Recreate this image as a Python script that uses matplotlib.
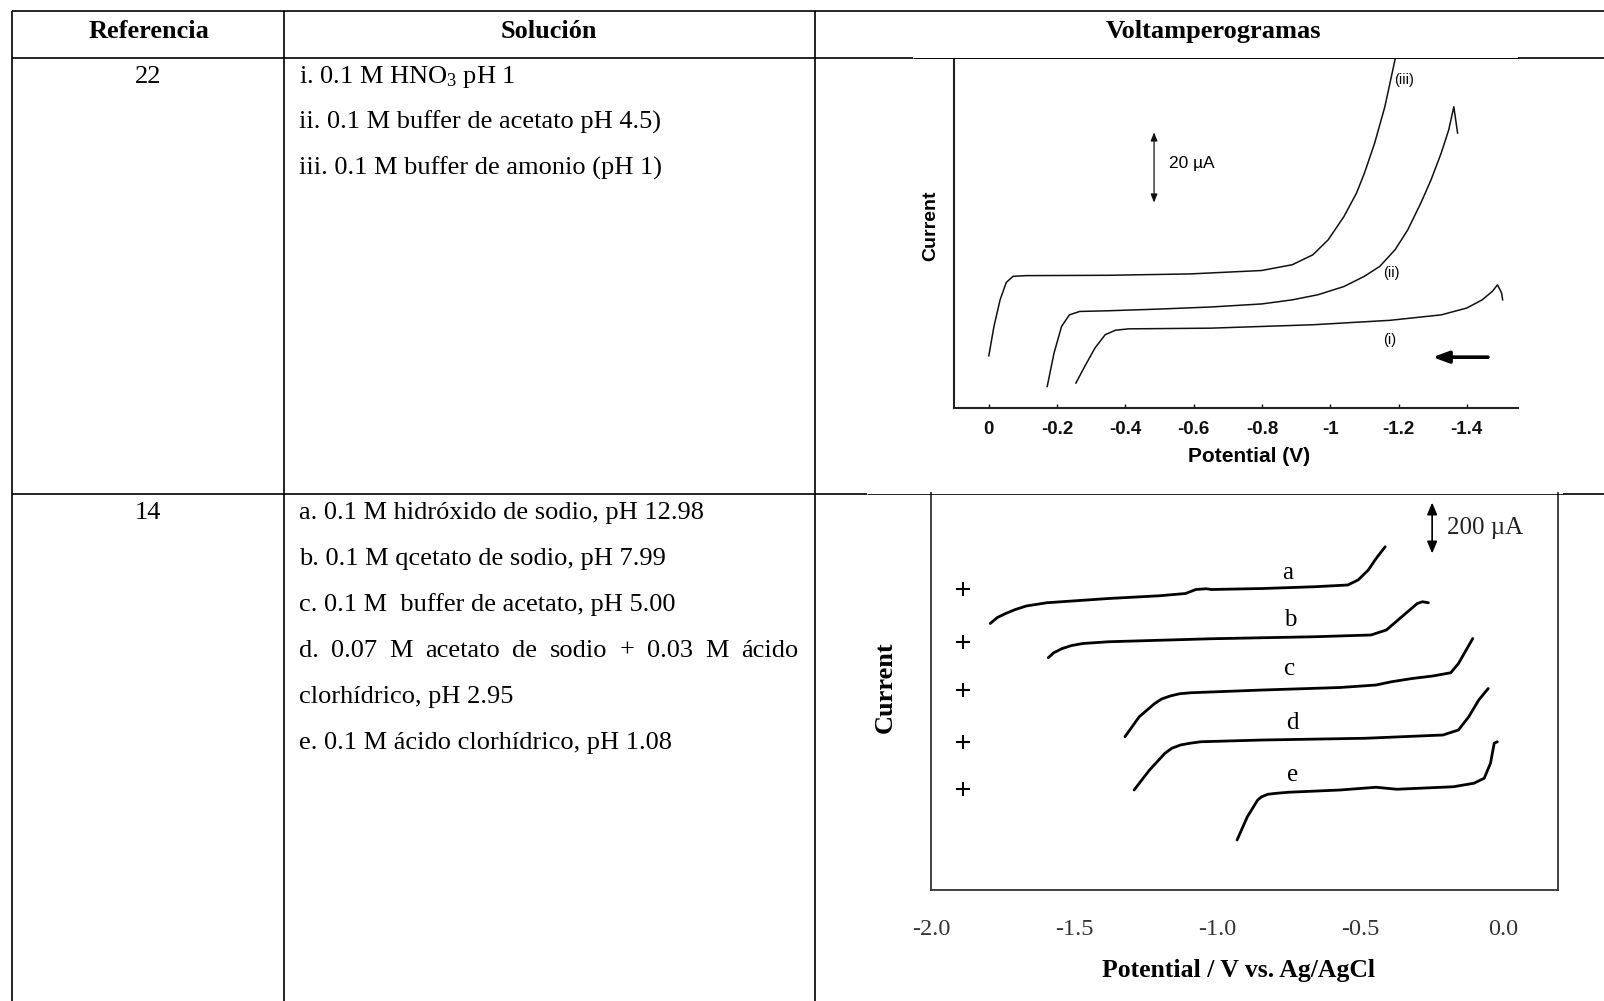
import matplotlib
matplotlib.use("Agg")
import matplotlib.pyplot as plt
from matplotlib.lines import Line2D

plt.rcParams['axes.unicode_minus'] = False
plt.rcParams['mathtext.fontset'] = 'custom'
plt.rcParams['mathtext.rm'] = 'Liberation Serif'
plt.rcParams['mathtext.it'] = 'Liberation Serif:italic'
plt.rcParams['mathtext.bf'] = 'Liberation Serif:bold'

# ---------------- table content ----------------
headers = ["Referencia", "Solución", "Voltamperogramas"]
refs = ["22", "14"]
row1_lines = [r"i. 0.1 M HNO$_{3}$ pH 1",
              "ii. 0.1 M buffer de acetato pH 4.5)",
              "iii. 0.1 M buffer de amonio (pH 1)"]
row2_lines = ["a. 0.1 M hidróxido de sodio, pH 12.98",
              "b. 0.1 M qcetato de sodio, pH 7.99",
              "c. 0.1 M  buffer de acetato, pH 5.00",
              "d. 0.07 M acetato de sodio + 0.03 M ácido",
              "clorhídrico, pH 2.95",
              "e. 0.1 M ácido clorhídrico, pH 1.08"]

# ---------------- voltammogram 1 (Potential V, Current µA) ----------------
v1_ticks = [0, -0.2, -0.4, -0.6, -0.8, -1.0, -1.2, -1.4]
v1_ticklabels = ["0", "-0.2", "-0.4", "-0.6", "-0.8", "-1", "-1.2", "-1.4"]

iii_v = [0.000, -0.015, -0.033, -0.051, -0.071, -0.108, -0.349, -0.589, -0.799,
         -0.889, -0.949, -0.994, -1.040, -1.077, -1.100, -1.130, -1.160, -1.190]
iii_i = [15.3, 23.9, 31.7, 36.8, 38.6, 38.8, 38.9, 39.3, 40.3,
         42.0, 44.9, 49.3, 56.1, 63.0, 68.8, 77.6, 88.3, 102.2]

ii_v = [-0.171, -0.191, -0.213, -0.236, -0.266, -0.349, -0.499, -0.649, -0.799,
        -0.889, -0.964, -1.040, -1.100, -1.145, -1.190, -1.227, -1.265, -1.295,
        -1.325, -1.347, -1.362, -1.373]
ii_i = [6.3, 16.1, 23.9, 27.3, 28.3, 28.5, 29.0, 29.6, 30.5,
        31.7, 33.2, 35.6, 38.6, 41.5, 46.4, 52.2, 60.0, 66.8,
        74.7, 81.5, 88.3, 80.6]

i_v = [-0.255, -0.281, -0.311, -0.341, -0.371, -0.409, -0.649, -0.949, -1.175,
       -1.325, -1.400, -1.445, -1.475, -1.490, -1.502, -1.505]
i_i = [7.3, 12.2, 17.6, 21.5, 22.8, 23.2, 23.4, 24.4, 25.7,
       27.3, 29.3, 31.7, 34.2, 36.1, 33.7, 31.7]

# ---------------- voltammogram 2 (Potential V vs Ag/AgCl, Current µA) ----------------
v2_ticks = [-2.0, -1.5, -1.0, -0.5, 0.0]
v2_ticklabels = ["-2.0", "-1.5", "-1.0", "-0.5", "0.0"]

a_v = [-1.793, -1.768, -1.739, -1.705, -1.667, -1.595, -1.379, -1.200, -1.110, -1.074,
       -1.038, -1.020, -0.840, -0.660, -0.543, -0.507, -0.471, -0.444, -0.412]
a_i = [1066, 1090, 1106, 1122, 1136, 1149, 1166, 1177, 1186, 1202,
       1205, 1202, 1206, 1213, 1220, 1240, 1280, 1326, 1373]

b_v = [-1.590, -1.571, -1.541, -1.508, -1.469, -1.379, -1.020, -0.660, -0.462,
       -0.408, -0.354, -0.300, -0.282, -0.261]
b_i = [929, 949, 966, 978, 986, 993, 1005, 1013, 1020,
       1040, 1093, 1146, 1153, 1149]

c_v = [-1.322, -1.272, -1.218, -1.194, -1.164, -1.131, -1.092, -0.840, -0.570, -0.444,
       -0.390, -0.318, -0.246, -0.183, -0.156, -0.129, -0.106]
c_i = [613, 693, 746, 764, 776, 785, 789, 800, 810, 820,
       833, 846, 856, 869, 906, 960, 1006]

d_v = [-1.290, -1.236, -1.182, -1.158, -1.128, -1.095, -1.056, -0.840, -0.480, -0.210,
       -0.156, -0.120, -0.085, -0.052]
d_i = [400, 480, 547, 567, 580, 587, 593, 600, 607, 620,
       640, 693, 760, 806]

e_v = [-0.930, -0.894, -0.858, -0.844, -0.822, -0.791, -0.750, -0.570, -0.444, -0.372,
       -0.174, -0.102, -0.066, -0.044, -0.031, -0.020]
e_i = [200, 293, 360, 373, 383, 387, 391, 400, 411, 403,
       413, 427, 447, 507, 587, 593]

plus_v = [-1.888, -1.888, -1.888, -1.888, -1.888]
plus_i = [1204, 992, 800, 592, 404]

curve_labels2 = ["a", "b", "c", "d", "e"]
label2_v = [-0.752, -0.745, -0.745, -0.736, -0.736]
label2_i = [1268, 1080, 884, 668, 460]

# ---------------- figure ----------------
W, H = 1604, 1001
fig = plt.figure(figsize=(W / 100, H / 100), dpi=100)
fig.patch.set_facecolor("white")


def fx(x):
    return x / W


def fy(y):
    return 1 - y / H


def hline(y, x1, x2, lw=1.2):
    fig.add_artist(Line2D([fx(x1), fx(x2)], [fy(y), fy(y)], transform=fig.transFigure,
                          color="black", lw=lw, solid_capstyle="butt", zorder=5))


def vline(x, y1, y2, lw=1.2):
    fig.add_artist(Line2D([fx(x), fx(x)], [fy(y1), fy(y2)], transform=fig.transFigure,
                          color="black", lw=lw, solid_capstyle="butt", zorder=5))


# table grid
hline(11, 12, W)
hline(58, 12, 913)
hline(58, 913, 1518, lw=0.7)
hline(58, 1518, W)
hline(494, 12, 867)
hline(494, 867, 1563, lw=0.6)
hline(494, 1563, W)
vline(12, 11, H)
vline(284, 11, H)
vline(815, 11, H)

serif = "Liberation Serif"
sans = "Liberation Sans"

# headers
for htxt, cx in zip(headers, [149, 549, 1214]):
    fig.text(fx(cx), fy(38), htxt, ha="center", va="baseline", fontsize=19,
             fontweight="bold", family=serif)

# reference numbers
fig.text(fx(148), fy(83), refs[0], ha="center", va="baseline", fontsize=19, family=serif)
fig.text(fx(148), fy(519), refs[1], ha="center", va="baseline", fontsize=19, family=serif)

x_text = 299
for k, s in enumerate(row1_lines):
    fig.text(fx(x_text), fy(83 + 46 * k), s, ha="left", va="baseline", fontsize=19, family=serif)

renderer = fig.canvas.get_renderer()
for k, s in enumerate(row2_lines):
    yb = 519 + 46 * k
    if s.startswith("d."):
        words = s.split()
        texts = [fig.text(0, fy(yb), w, ha="left", va="baseline", fontsize=19, family=serif)
                 for w in words]
        widths = [t.get_window_extent(renderer).width for t in texts]
        gap = (798 - x_text - sum(widths)) / (len(words) - 1)
        xcur = x_text
        for t, wdt in zip(texts, widths):
            t.set_x(fx(xcur))
            xcur += wdt + gap
    else:
        fig.text(fx(x_text), fy(yb), s, ha="left", va="baseline", fontsize=19, family=serif)

# ---------------- plot 1 ----------------
ax1 = fig.add_axes([fx(954), fy(408), (1518 - 954) / W, (408 - 59) / H])
ax1.patch.set_visible(False)
ax1.set_xlim(0.102, -1.55)
ax1.set_ylim(0, 102.3)
for sp in ["top", "right"]:
    ax1.spines[sp].set_visible(False)
for sp in ["left", "bottom"]:
    ax1.spines[sp].set_linewidth(1.5)
    ax1.spines[sp].set_color("#222222")
ax1.set_yticks([])
ax1.set_xticks(v1_ticks)
ax1.set_xticklabels(v1_ticklabels, fontsize=13.5, fontweight="bold", family=sans)
ax1.tick_params(axis="x", direction="in", length=3, width=1, pad=9.5, colors="#111111")

for vv, ii in [(iii_v, iii_i), (ii_v, ii_i), (i_v, i_i)]:
    ax1.plot(vv, ii, color="#111111", lw=1.1)

ax1.text(-1.217, 96.1, "(iii)", ha="center", va="center", fontsize=10.5, family=sans)
ax1.text(-1.178, 39.5, "(ii)", ha="center", va="center", fontsize=10.5, family=sans)
ax1.text(-1.175, 20.0, "(i)", ha="center", va="center", fontsize=10.5, family=sans)

ax1.annotate("", xy=(-0.484, 80.8), xytext=(-0.484, 60.2),
             arrowprops=dict(arrowstyle="<|-|>,head_length=0.5,head_width=0.2",
                             lw=0.9, color="#111111", shrinkA=0, shrinkB=0, mutation_scale=10))
ax1.text(-0.529, 71.8, "20 µA", ha="left", va="center", fontsize=12.5, family=sans)

ax1.annotate("", xy=(-1.300, 14.9), xytext=(-1.462, 14.9),
             arrowprops=dict(arrowstyle="-|>,head_length=0.95,head_width=0.35",
                             lw=2.6, color="black", shrinkA=0, shrinkB=0, mutation_scale=10))

fig.text(fx(1249), fy(457), "Potential (V)", ha="center", va="center", fontsize=15,
         fontweight="bold", family=sans)
fig.text(fx(931), fy(226), "Current", ha="center", va="center", rotation=90, fontsize=14,
         fontweight="bold", family=sans)

# ---------------- plot 2 ----------------
ax2 = fig.add_axes([fx(931), fy(890), (1558 - 931) / W, (890 - 493) / H])
ax2.patch.set_visible(False)
ax2.set_xlim(-2.0, 0.192)
ax2.set_ylim(0, 1588)
ax2.spines["top"].set_visible(False)
for sp in ["left", "bottom", "right"]:
    ax2.spines[sp].set_linewidth(1.3)
    ax2.spines[sp].set_color("#333333")
ax2.set_yticks([])
ax2.set_xticks(v2_ticks)
ax2.set_xticklabels(v2_ticklabels, fontsize=17.5, family=serif)
ax2.tick_params(axis="x", length=0, pad=21, colors="#333333")

for vv, ii in [(a_v, a_i), (b_v, b_i), (c_v, c_i), (d_v, d_i), (e_v, e_i)]:
    ax2.plot(vv, ii, color="black", lw=2.0, solid_capstyle="round", solid_joinstyle="round")

ax2.plot(plus_v, plus_i, linestyle="none", marker="+", ms=10, mew=1.5, color="black")

for lab, lv, li in zip(curve_labels2, label2_v, label2_i):
    ax2.text(lv, li, lab, ha="center", va="center", fontsize=18, family=serif)

ax2.annotate("", xy=(-0.248, 1550), xytext=(-0.248, 1346),
             arrowprops=dict(arrowstyle="<|-|>,head_length=0.6,head_width=0.25",
                             lw=1.2, color="black", shrinkA=0, shrinkB=0, mutation_scale=12))
ax2.text(-0.196, 1448, "200 µA", ha="left", va="center", fontsize=18, family=serif,
         color="#222222")

fig.text(fx(1238), fy(970), "Potential / V vs. Ag/AgCl", ha="center", va="center",
         fontsize=18.5, fontweight="bold", family=serif)
fig.text(fx(885), fy(687), "Current", ha="center", va="center", rotation=90,
         fontsize=19, fontweight="bold", family=serif)

fig.savefig("out.png", dpi=100, facecolor="white")
